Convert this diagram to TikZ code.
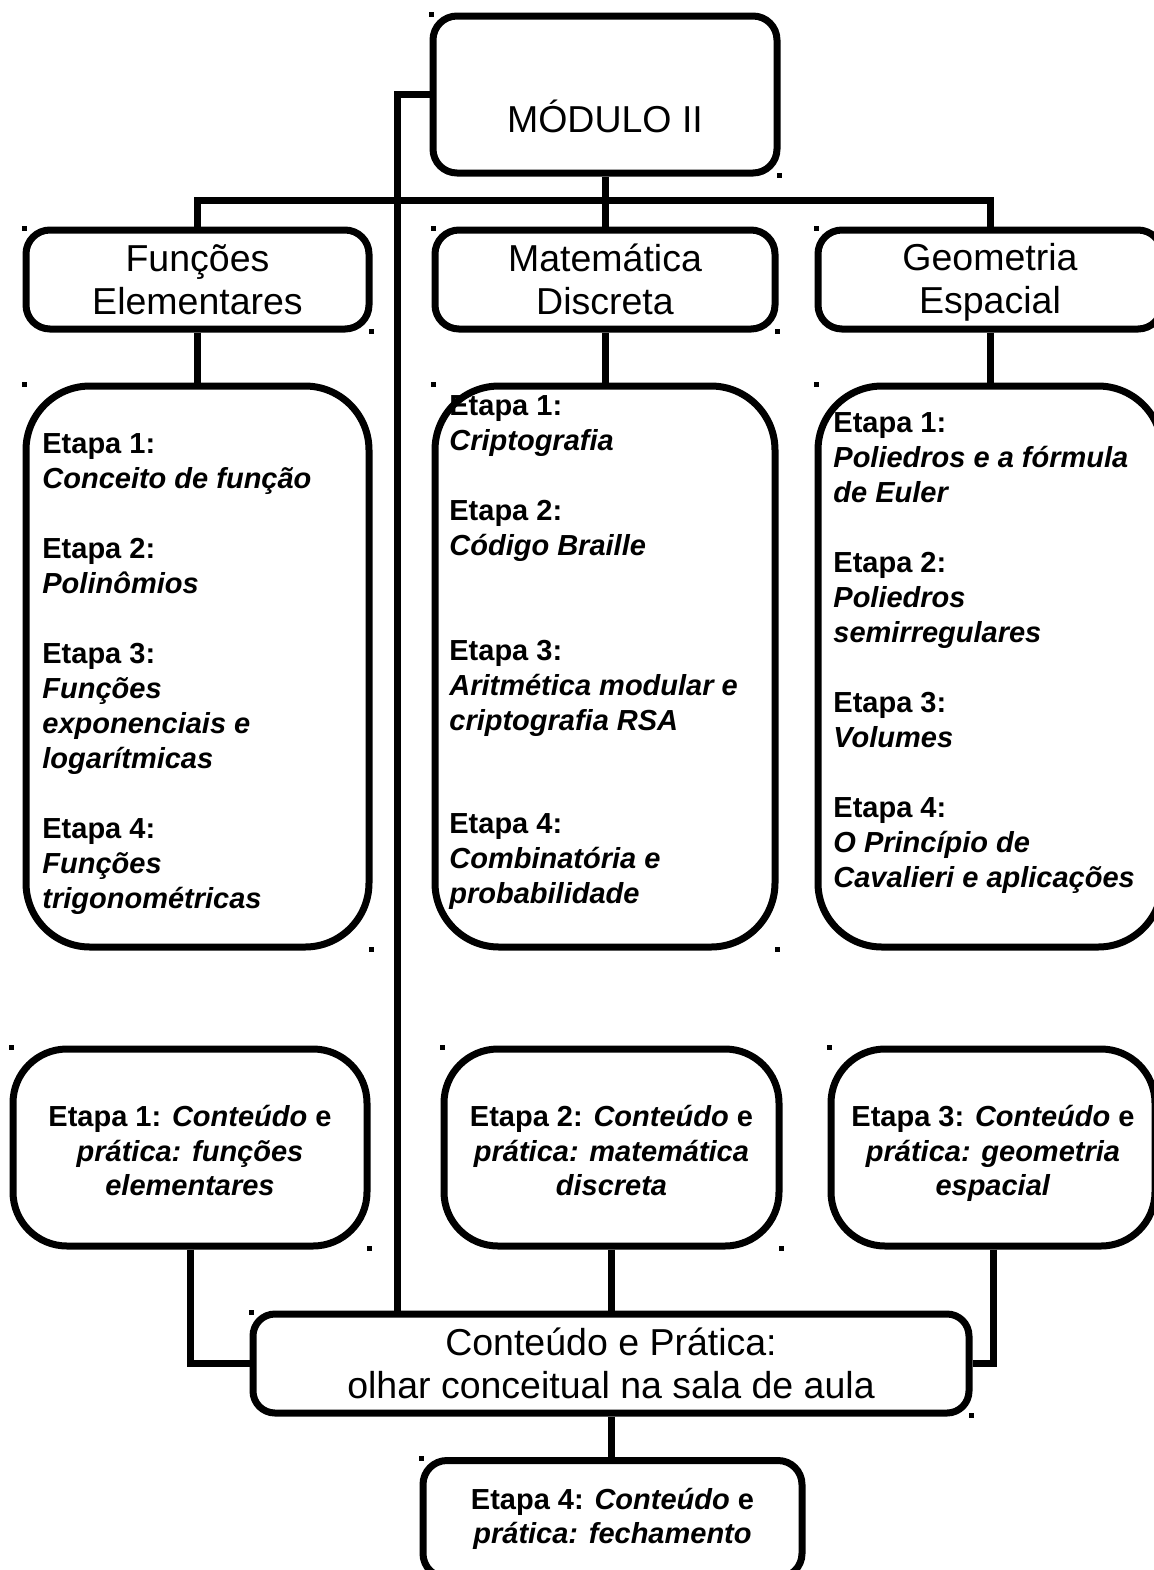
\documentclass[tikz,border=0pt]{standalone}
\usepackage{fontspec}
\setmainfont{Liberation Sans}

\tikzset{
  box/.style={draw, line width=3.5pt, rounded corners=12pt, inner sep=0pt},
  bigtext/.style={font=\fontsize{18.75}{21.5}\selectfont, align=center},
  steptext/.style={font=\fontsize{14.5}{17.5}\selectfont\bfseries, align=left, anchor=north west, inner sep=0pt},
  practext/.style={font=\fontsize{14.5}{17.25}\selectfont\bfseries, align=center},
  wire/.style={line width=3.5pt}
}
\newcommand\handles[1]{%
  \fill ([shift={(-1,-1)}]#1.north west) rectangle +(5,5);
  \fill ([shift={(-4,-4)}]#1.south east) rectangle +(5,5);}
\newcommand\toprule{\rule{0pt}{18pt}}
\newcommand\botrule{\rule[-4.5pt]{0pt}{0pt}}

\begin{document}
\begin{tikzpicture}[x=0.5pt, y=-0.5pt]
\useasboundingbox (0,0) rectangle (1153,1570);

\node[box, minimum width=172pt, minimum height=78.5pt] (modulo) at (605,94.5) {};
\node[bigtext] (modulotxt) at (605,116) {MÓDULO II};

\node[box, bigtext, minimum width=171.5pt, minimum height=49.5pt] (funcoes) at (197.5,279.5) {Funções\\Elementares};
\node[box, bigtext, minimum width=170pt, minimum height=49.5pt] (discreta) at (605,279.5) {Matemática\\Discreta};
\node[box, bigtext, minimum width=172pt, minimum height=49.5pt] (geometria) at (990,279.5) {\vphantom{Á}Geometria\\Espacial};

\node[box, rounded corners=32pt, minimum width=171.5pt, minimum height=280.5pt] (funcoeslist) at (197.5,666.5) {};
\node[box, rounded corners=32pt, minimum width=170pt, minimum height=280.5pt] (discretalist) at (605,666.5) {};
\node[box, rounded corners=32pt, minimum width=172pt, minimum height=280.5pt] (geometrialist) at (990,666.5) {};

\node[steptext] (funcoestxt) at (42,433) {Etapa 1:\\ \textit{Conceito de função}\\[17.5pt]
  Etapa 2:\\ \textit{Polinômios}\\[17.5pt]
  Etapa 3:\\ \textit{Funções}\\ \textit{exponenciais e}\\ \textit{logarítmicas}\\[17.5pt]
  Etapa 4:\\ \textit{Funções}\\ \textit{trigonométricas}};
\node[steptext] (discretatxt) at (449,395) {Etapa 1:\\ \textit{Criptografia}\\[17.5pt]
  Etapa 2:\\ \textit{Código Braille}\\[35pt]
  Etapa 3:\\ \textit{Aritmética modular e}\\ \textit{criptografia RSA}\\[34pt]
  Etapa 4:\\ \textit{Combinatória e}\\ \textit{probabilidade}};
\node[steptext] (geometriatxt) at (833,412) {Etapa 1:\\ \textit{Poliedros e a fórmula}\\ \textit{de Euler}\\[17.5pt]
  Etapa 2:\\ \textit{Poliedros}\\ \textit{semirregulares}\\[17.5pt]
  Etapa 3:\\ \textit{Volumes}\\[17.5pt]
  Etapa 4:\\ \textit{O Princípio de}\\ \textit{Cavalieri e aplicações}};

\node[box, practext, rounded corners=27pt, minimum width=177pt, minimum height=98.5pt] (pratica1) at (190,1147.5) {\toprule Etapa 1: \textit{Conteúdo} e\\ \textit{prática: funções}\\ \textit{elementares}\botrule};
\node[box, practext, rounded corners=27pt, minimum width=167.5pt, minimum height=98.5pt] (pratica2) at (611.5,1147.5) {\toprule Etapa 2: \textit{Conteúdo} e\\ \textit{prática: matemática}\\ \textit{discreta}\botrule};
\node[box, practext, rounded corners=27pt, minimum width=162pt, minimum height=98.5pt] (pratica3) at (993,1147.5) {\toprule Etapa 3: \textit{Conteúdo} e\\ \textit{prática: geometria}\\ \textit{espacial}\botrule};

\node[box, bigtext, rounded corners=11pt, minimum width=358pt, minimum height=49.5pt] (olhar) at (611,1363.5) {Conteúdo e Prática:\\olhar conceitual na sala de aula};
\node[box, practext, minimum width=189.5pt, minimum height=58.5pt] (fechamento) at (612.5,1519) {Etapa 4: \textit{Conteúdo} e\\ \textit{prática: fechamento}};

\coordinate (bus) at (0,200);
\coordinate (spine) at (397,0);
\draw[wire] (modulo.south) -- (discreta.north);
\draw[wire] (funcoes.north) |- (geometria.north |- bus) -- (geometria.north);
\draw[wire] (modulo.west) -| (spine |- olhar.north);
\draw[wire] (funcoes) -- (funcoeslist);
\draw[wire] (discreta) -- (discretalist);
\draw[wire] (geometria) -- (geometrialist);
\draw[wire] (pratica1.south) |- (olhar.west);
\draw[wire] (pratica2.south) -- (pratica2.south |- olhar.north);
\draw[wire] (pratica3.south) |- (olhar.east);
\draw[wire] (olhar.south) -- (olhar.south |- fechamento.north);

\handles{modulo}
\handles{funcoes} \handles{discreta} \handles{geometria}
\handles{funcoeslist} \handles{discretalist} \handles{geometrialist}
\handles{pratica1} \handles{pratica2} \handles{pratica3}
\handles{olhar} \handles{fechamento}
\end{tikzpicture}
\end{document}
